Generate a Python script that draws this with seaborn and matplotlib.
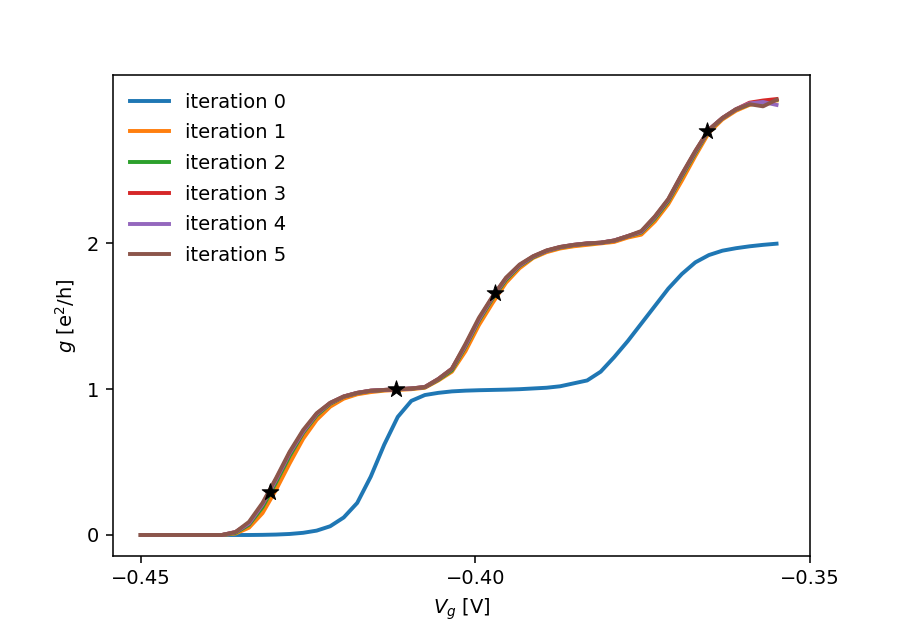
import numpy as np
import pandas as pd
import matplotlib
matplotlib.use("Agg")
import matplotlib.pyplot as plt
import seaborn as sns

vg = [-0.45, -0.44798, -0.44596, -0.44394, -0.44191, -0.43989, -0.43787, -0.43585,
      -0.43383, -0.43181, -0.42979, -0.42777, -0.42574, -0.42372, -0.4217, -0.41968,
      -0.41766, -0.41564, -0.41362, -0.4116, -0.40957, -0.40755, -0.40553, -0.40351,
      -0.40149, -0.39947, -0.39745, -0.39543, -0.3934, -0.39138, -0.38936, -0.38734,
      -0.38532, -0.3833, -0.38128, -0.37926, -0.37723, -0.37521, -0.37319, -0.37117,
      -0.36915, -0.36713, -0.36511, -0.36309, -0.36106, -0.35904, -0.35702, -0.355]

iter0 = [0, 0, 0, 0, 0, 0, 0, 0, 0, 0.001, 0.003, 0.007, 0.015, 0.03, 0.06, 0.12,
         0.22, 0.40, 0.62, 0.81, 0.92, 0.96, 0.975, 0.985, 0.99, 0.993, 0.995, 0.997,
         1.0, 1.005, 1.01, 1.02, 1.04, 1.06, 1.12, 1.22, 1.33, 1.45, 1.57, 1.69,
         1.79, 1.87, 1.92, 1.95, 1.967, 1.98, 1.99, 1.998]
iter1 = [0, 0, 0, 0, 0, 0, 0, 0.01, 0.05, 0.15, 0.31, 0.49, 0.66, 0.79, 0.88, 0.935,
         0.965, 0.98, 0.99, 0.995, 1.0, 1.01, 1.06, 1.12, 1.26, 1.44, 1.59, 1.73,
         1.83, 1.90, 1.94, 1.965, 1.98, 1.99, 2.0, 2.01, 2.04, 2.06, 2.15, 2.27,
         2.43, 2.60, 2.76, 2.85, 2.91, 2.95, 2.97, 2.98]
iter2 = [0, 0, 0, 0, 0, 0, 0, 0.015, 0.07, 0.19, 0.36, 0.54, 0.70, 0.82, 0.9, 0.948,
         0.973, 0.988, 0.994, 0.999, 1.004, 1.013, 1.065, 1.13, 1.29, 1.47, 1.62, 1.75,
         1.845, 1.905, 1.948, 1.972, 1.988, 1.998, 2.004, 2.018, 2.048, 2.075, 2.17, 2.29,
         2.46, 2.62, 2.775, 2.857, 2.918, 2.955, 2.965, 2.985]
iter3 = [0, 0, 0, 0, 0, 0, 0, 0.02, 0.08, 0.21, 0.38, 0.56, 0.71, 0.83, 0.905, 0.95,
         0.975, 0.99, 0.995, 1.0, 1.005, 1.015, 1.07, 1.14, 1.30, 1.48, 1.63, 1.76,
         1.85, 1.91, 1.95, 1.975, 1.99, 2.0, 2.005, 2.02, 2.05, 2.08, 2.18, 2.30,
         2.47, 2.63, 2.78, 2.86, 2.92, 2.965, 2.98, 2.99]
iter4 = [0, 0, 0, 0, 0, 0, 0, 0.02, 0.08, 0.21, 0.38, 0.56, 0.71, 0.83, 0.905, 0.95,
         0.975, 0.99, 0.995, 1.0, 1.005, 1.015, 1.07, 1.14, 1.30, 1.48, 1.63, 1.76,
         1.85, 1.91, 1.95, 1.975, 1.99, 2.0, 2.005, 2.02, 2.05, 2.08, 2.18, 2.30,
         2.47, 2.63, 2.78, 2.86, 2.92, 2.96, 2.97, 2.95]
iter5 = [0, 0, 0, 0, 0, 0, 0, 0.02, 0.09, 0.22, 0.39, 0.57, 0.72, 0.835, 0.907, 0.95,
         0.975, 0.99, 0.995, 1.0, 1.005, 1.015, 1.07, 1.14, 1.31, 1.49, 1.635, 1.765,
         1.855, 1.912, 1.952, 1.976, 1.99, 2.0, 2.005, 2.02, 2.05, 2.085, 2.185, 2.305,
         2.475, 2.635, 2.78, 2.86, 2.92, 2.955, 2.94, 2.985]

star_x = [-0.4307, -0.4118, -0.3970, -0.3654]
star_y = [0.295, 1.0, 1.66, 2.77]

labels = ["iteration 0", "iteration 1", "iteration 2", "iteration 3", "iteration 4", "iteration 5"]
series = [iter0, iter1, iter2, iter3, iter4, iter5]

df = pd.concat([pd.DataFrame({"Vg": vg, "g": s, "run": lab}) for s, lab in zip(series, labels)],
               ignore_index=True)

fig, ax = plt.subplots(figsize=(6.4, 6.4 * 637 / 900), dpi=900 / 6.4)
fig.subplots_adjust(left=0.1252, right=0.9, top=1 - 75 / 637, bottom=1 - 555.7 / 637)
sns.lineplot(data=df, x="Vg", y="g", hue="run", palette=sns.color_palette("tab10", 6),
             linewidth=2, ax=ax, sort=False)
sns.scatterplot(x=star_x, y=star_y, marker="*", color="black", s=80, edgecolor="black",
                linewidth=0.5, ax=ax, zorder=5)
ax.set_xlim(-0.4542, -0.35)
ax.set_ylim(-0.142, 3.155)
ax.set_xlabel("$V_g$ [V]")
ax.set_ylabel("$g$ [e$^2$/h]")
ax.set_xticks([-0.45, -0.40, -0.35])
ax.set_yticks([0, 1, 2])
handles, labs = ax.get_legend_handles_labels()
ax.legend(handles[:6], labs[:6], loc="upper left", frameon=False, labelspacing=0.6)
fig.savefig("out.png", dpi=900 / 6.4)
